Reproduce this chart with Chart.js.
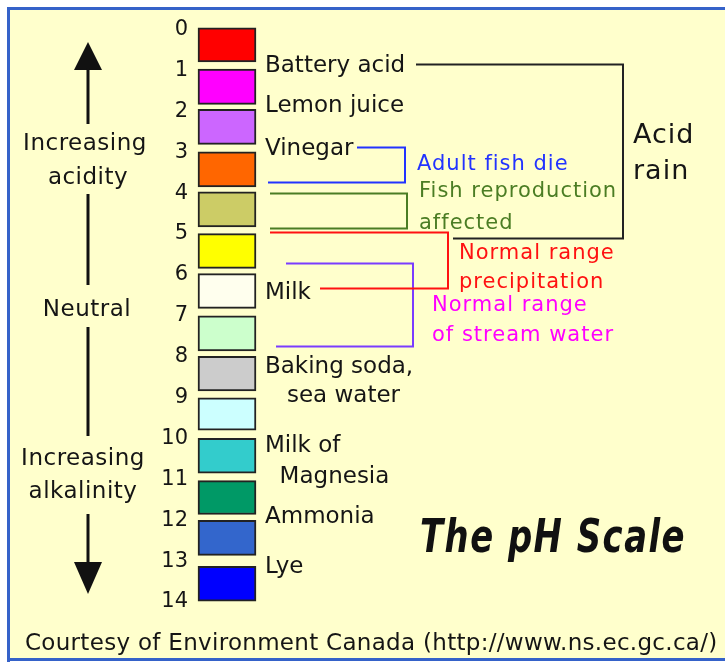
<!DOCTYPE html>
<html>
<head>
<meta charset="utf-8">
<title>The pH Scale</title>
<script src="https://cdn.jsdelivr.net/npm/chart.js@4.4.1/dist/chart.umd.min.js"></script>
<style>
  html, body { margin: 0; padding: 0; background: #fff; }
  canvas { display: block; }
</style>
</head>
<body>
<canvas id="phChart" width="725" height="662"></canvas>
<script>
// --- The colour boxes, one per pH unit ---
const boxColors = ['#FF0000', '#FF00FF', '#CC66FF', '#FF6600', '#CCCC66', '#FFFF00', '#FFFFEE',
                   '#CCFFCC', '#CCCCCC', '#CCFFFF', '#33CCCC', '#009966', '#3366CC', '#0000FF'];
const boxStart = [-0.04, 0.97, 1.95, 2.99, 3.97, 4.99, 5.97, 7.0, 7.99, 9.01, 10.0, 11.03, 12.0, 13.13];
const boxEnd   = [0.79, 1.83, 2.81, 3.85, 4.83, 5.84, 6.82, 7.86, 8.84, 9.8, 10.85, 11.86, 12.86, 13.98];

// --- Substances written beside the boxes ---
const substanceNames = ['Battery acid', 'Lemon juice', 'Vinegar', 'Milk', 'Baking soda,', '   sea water',
                        'Milk of', '  Magnesia', 'Ammonia', 'Lye'];
const substancePH = [0.82, 1.8, 2.86, 6.37, 8.17, 8.9, 10.1, 10.88, 11.84, 13.06];

// --- Brackets on the right (pH range and label lines) ---
const rangeNames = [['Adult fish die'], ['Fish reproduction', 'affected'], ['Normal range', 'precipitation'],
                    ['Normal range', 'of stream water'], ['Acid', 'rain']];
const rangeFrom = [2.87, 3.99, 4.96, 5.7, 0.84];
const rangeTo   = [3.72, 4.85, 6.33, 7.75, 5.1];
const rangeLabelPH = [3.25, 3.91, 5.42, 6.69, 2.52];

const FONT = '"DejaVu Sans", Verdana, sans-serif';
const INK = '#151515';

// style of each bracket (same order as rangeNames)
const bracketStyle = [
    { line: '#2233ff', ink: '#2233ff', topX: 357, botX: 268, vx: 405, labelX: 417, size: 21, lh: 30 },
    { line: '#4b7d24', ink: '#4b7d24', topX: 270, botX: 270, vx: 407, labelX: 419, size: 21, lh: 32 },
    { line: '#ff1111', ink: '#ff1111', topX: 270, botX: 320, vx: 448, labelX: 459, size: 21, lh: 29 },
    { line: '#7a3cff', ink: '#ff00ff', topX: 286, botX: 276, vx: 413, labelX: 432, size: 21, lh: 30 },
    { line: '#222222', ink: INK,       topX: 416, botX: 453, vx: 623, labelX: 633, size: 27, lh: 36 }
];

// draws text so that y is the middle of the capital letters
function label(ctx, str, x, y, size, color, spacing, align) {
    ctx.save();
    ctx.font = `${size}px ${FONT}`;
    ctx.fillStyle = color;
    ctx.textAlign = align || 'left';
    ctx.textBaseline = 'alphabetic';
    ctx.letterSpacing = (spacing || 0) + 'px';
    ctx.fillText(str, x, y + size * 0.729 / 2);
    ctx.restore();
}

function arrowHead(ctx, x, tipY, baseY, half) {
    ctx.beginPath();
    ctx.moveTo(x, tipY);
    ctx.lineTo(x - half, baseY);
    ctx.lineTo(x + half, baseY);
    ctx.closePath();
    ctx.fill();
}

function bracket(ctx, s, top, bot) {
    ctx.strokeStyle = s.line;
    ctx.beginPath();
    ctx.moveTo(s.topX, top);
    ctx.lineTo(s.vx, top);
    ctx.lineTo(s.vx, bot);
    ctx.lineTo(s.botX, bot);
    ctx.stroke();
}

// --- Background, frame and all the writing around the scale ---
const phDecor = {
    id: 'phDecor',
    beforeDraw(chart) {
        const { ctx, width, height } = chart;
        ctx.save();
        ctx.fillStyle = '#fff';
        ctx.fillRect(0, 0, width, height);
        ctx.fillStyle = '#FFFFCC';
        ctx.fillRect(7, 7, width - 7, height - 10);
        ctx.fillStyle = '#3562c9';
        ctx.fillRect(7, 7, width - 7, 3);
        ctx.fillRect(7, 7, 3, height - 7);
        ctx.fillRect(7, height - 4, width - 7, 3);
        ctx.restore();
    },
    afterDraw(chart) {
        const { ctx } = chart;
        const y = chart.scales.y;
        const Y = v => Math.round(y.getPixelForValue(v)) + 0.5;

        // left: direction arrows and words
        ctx.save();
        ctx.fillStyle = '#111';
        arrowHead(ctx, 88, 42, 70, 14);
        ctx.fillRect(86.5, 68, 3, 56);
        ctx.fillRect(86.5, 194, 3, 91);
        ctx.fillRect(86.5, 327, 3, 109);
        ctx.fillRect(86.5, 514, 3, 50);
        arrowHead(ctx, 88, 594, 562, 14);
        ctx.restore();
        label(ctx, 'Increasing', 85, 141.5, 23, INK, 0.5, 'center');
        label(ctx, 'acidity', 88, 175.5, 23, INK, 0.5, 'center');
        label(ctx, 'Neutral', 87, 308, 23, INK, 0.5, 'center');
        label(ctx, 'Increasing', 83, 457, 23, INK, 0.5, 'center');
        label(ctx, 'alkalinity', 83, 490, 23, INK, 0.5, 'center');

        // substances
        substanceNames.forEach((name, i) => label(ctx, name, 265, Y(substancePH[i]), 23, INK, 0));

        // coloured brackets, purple first so red runs over it
        ctx.save();
        ctx.lineWidth = 2;
        [3, 0, 1, 2].forEach(i => bracket(ctx, bracketStyle[i], Y(rangeFrom[i]), Y(rangeTo[i])));
        ctx.restore();

        rangeNames.forEach((lines, i) => {
            const s = bracketStyle[i];
            lines.forEach((txt, k) => label(ctx, txt, s.labelX, Y(rangeLabelPH[i]) + k * s.lh, s.size, s.ink, 1));
        });

        // acid rain bracket drawn last, it runs over the green text
        ctx.save();
        ctx.lineWidth = 2;
        bracket(ctx, bracketStyle[4], Y(rangeFrom[4]), Y(rangeTo[4]));
        ctx.restore();

        // title
        ctx.save();
        ctx.font = `italic bold 46px ${FONT}`;
        ctx.letterSpacing = '2px';
        const w = ctx.measureText('The pH Scale').width;
        ctx.translate(420, 552);
        ctx.scale(266 / w, 1);
        ctx.fillStyle = '#111';
        ctx.fillText('The pH Scale', 0, 0);
        ctx.restore();

        // source line
        label(ctx, 'Courtesy of Environment Canada (http://www.ns.ec.gc.ca/)', 25, 641.5, 23, INK, 0.3);
    }
};

new Chart(document.getElementById('phChart'), {
    type: 'bar',
    data: {
        labels: ['pH'],
        datasets: [{
            data: boxStart.map((s, i) => ({ x: 'pH', y: [s, boxEnd[i]] })),
            backgroundColor: boxColors,
            borderColor: '#222',
            borderWidth: 2,
            borderSkipped: false,
            barPercentage: 1,
            categoryPercentage: 1,
            clip: false
        }]
    },
    options: {
        responsive: false,
        animation: false,
        layout: { padding: { left: 158, right: 469, top: 29.5, bottom: 60 } },
        plugins: { legend: { display: false }, tooltip: { enabled: false } },
        scales: {
            x: { display: false },
            y: {
                min: 0,
                max: 14,
                reverse: true,
                afterFit: axis => { axis.width = 40; },
                grid: { display: false, drawTicks: false },
                border: { display: false },
                ticks: { stepSize: 1, padding: 10, color: INK, font: { family: FONT, size: 21 } }
            }
        }
    },
    plugins: [phDecor]
});
</script>
</body>
</html>
